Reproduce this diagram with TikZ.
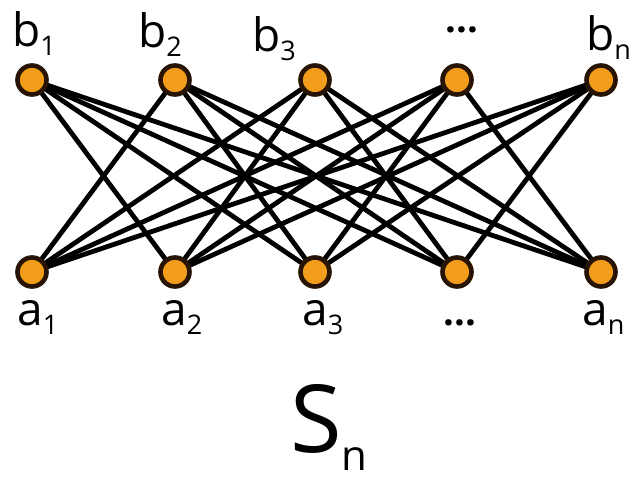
\documentclass[tikz,border=0pt]{standalone}
\usepackage{fontspec}
\setmainfont{Open Sans}
\usetikzlibrary{backgrounds}
\definecolor{vfill}{RGB}{242,158,28}
\definecolor{vline}{RGB}{40,20,5}
\newcommand\lblsub[2]{#1\raisebox{-9pt}{\fontsize{27}{30}\selectfont #2}}
\begin{document}
\begin{tikzpicture}[x=1pt,y=-1pt,
  vertex/.style={circle,fill=vfill,draw=vline,line width=4.6pt,minimum size=29pt,inner sep=0pt},
  edge/.style={line width=4.8pt,black},
  lab/.style={anchor=base west,inner sep=0pt,font=\fontsize{46}{50}\selectfont},
  dots/.style={anchor=base,inner sep=1pt,font=\bfseries\fontsize{38}{40}\selectfont},
  big/.style={anchor=base west,inner sep=0pt,font=\fontsize{94}{100}\selectfont}]
\useasboundingbox (0,0) rectangle (633,482);
\foreach \i/\x in {1/32,2/175,3/315,4/457,5/601}{
  \node[vertex] (b\i) at (\x,80) {};
  \node[vertex] (a\i) at (\x,272) {};
}
\begin{scope}[on background layer]
\foreach \i in {1,...,5}{
  \foreach \j in {1,...,5}{
    \ifnum\i=\j\relax\else
      \draw[edge] (b\i.center) -- (a\j.center);
    \fi
  }
}
\end{scope}
\node[lab] (lb1) at (12,46) {\lblsub{b}{1}};
\node[lab] (lb2) at (138,47) {\lblsub{b}{2}};
\node[lab] (lb3) at (252,51) {\lblsub{b}{3}};
\node[dots] (lb4) at (462,32) {...};
\node[lab] (lb5) at (586,50) {\lblsub{b}{n}};
\node[lab] (la1) at (17,325) {\lblsub{a}{1}};
\node[lab] (la2) at (161,325) {\lblsub{a}{2}};
\node[lab] (la3) at (302,325) {\lblsub{a}{3}};
\node[dots] (la4) at (460,325) {...};
\node[lab] (la5) at (582,325) {\lblsub{a}{n}};
\node[big] (S) at (290,452) {S\raisebox{-18pt}{\fontsize{42}{44}\selectfont n}};
\end{tikzpicture}
\end{document}
